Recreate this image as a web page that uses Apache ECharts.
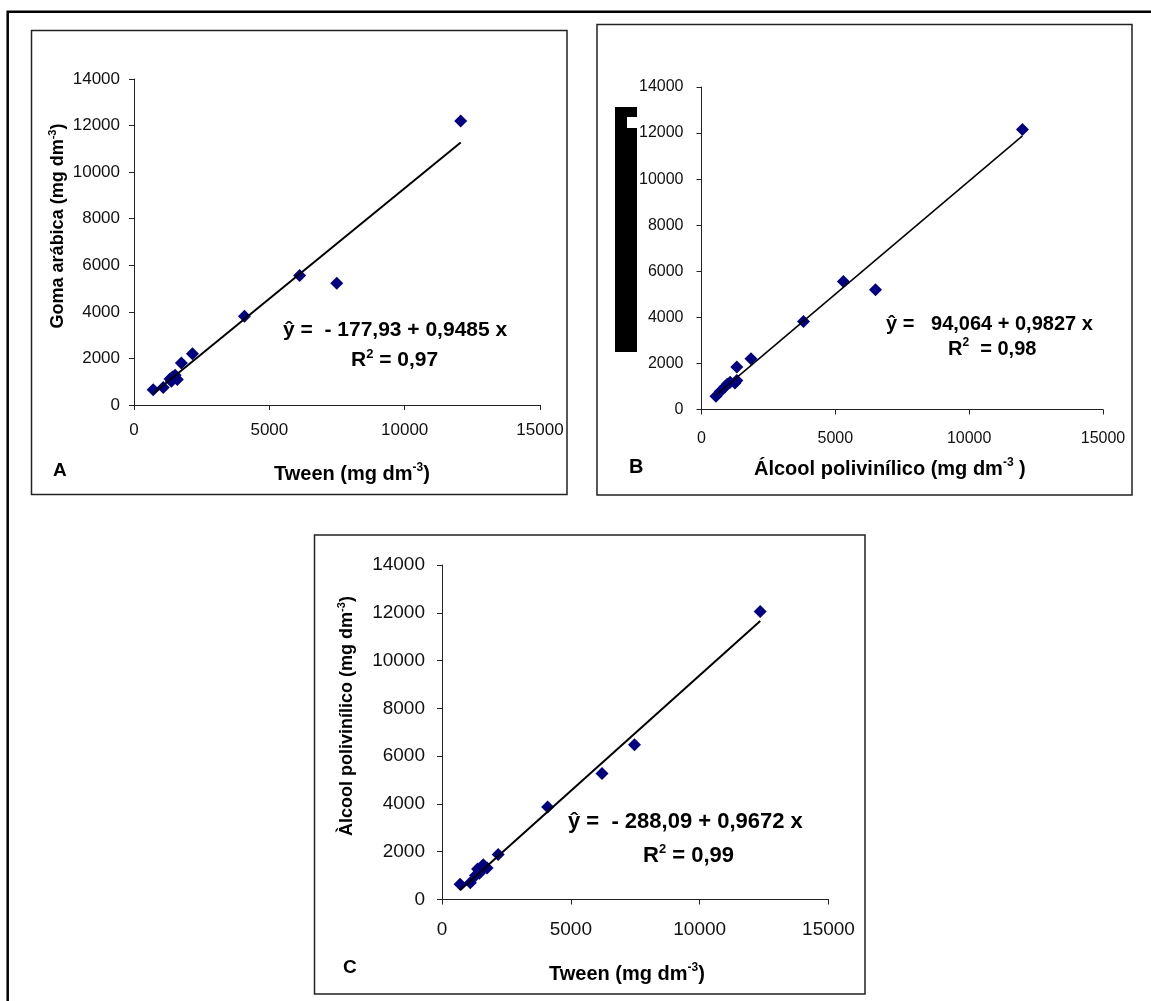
<!DOCTYPE html>
<html>
<head>
<meta charset="utf-8">
<script src="https://cdn.jsdelivr.net/npm/echarts@6/dist/echarts.min.js"></script>
<style>
html, body { margin: 0; padding: 0; background: #fff; }
#main { width: 1151px; height: 1001px; }
</style>
</head>
<body>
<div id="main"></div>
<script>
// panel A: Tween vs Goma arabica
var tweenA = [710, 1080, 1330, 1380, 1420, 1520, 1600, 1750, 2160, 4080, 6120, 7490, 12070];
var gomaA = [650, 750, 1120, 1020, 1200, 1280, 1090, 1800, 2200, 3810, 5560, 5230, 12200];
// panel B: Alcool polivinilico vs Goma arabica
var pvaB = [540, 700, 880, 960, 1070, 1250, 1320, 1320, 1850, 3810, 5300, 6500, 11990];
var gomaB = [580, 780, 990, 1100, 1180, 1150, 1260, 1840, 2200, 3820, 5560, 5200, 12150];
// panel C: Tween vs Alcool polivinilico
var tweenC = [700, 1100, 1300, 1380, 1450, 1500, 1600, 1750, 2180, 4100, 6210, 7470, 12350];
var pvaC = [640, 700, 1000, 1280, 1100, 1200, 1450, 1320, 1880, 3870, 5270, 6480, 12050];

// fitted lines (intercept, slope) as printed on the chart
var intercepts = [-177.93, 94.064, -288.09];
var slopes = [0.9485, 0.9827, 0.9672];

var xTicks = [0, 5000, 10000, 15000];
var yTicks = [0, 2000, 4000, 6000, 8000, 10000, 12000, 14000];

var FONT = "'Liberation Sans', Arial, sans-serif";

function pairs(xs, ys) {
    var out = [];
    for (var i = 0; i < xs.length; i++) out.push([xs[i], ys[i]]);
    return out;
}

function fitLine(xs, k) {
    var lo = Math.min.apply(null, xs), hi = Math.max.apply(null, xs);
    return [[lo, intercepts[k] + slopes[k] * lo], [hi, intercepts[k] + slopes[k] * hi]];
}

function xAxisFor(idx, fs, margin) {
    return {
        type: 'value', gridIndex: idx, min: xTicks[0], max: xTicks[xTicks.length - 1], interval: 5000,
        splitLine: { show: false },
        axisLine: { lineStyle: { color: '#222', width: 1 } },
        axisTick: { length: 5, lineStyle: { color: '#222' } },
        axisLabel: { color: '#111', fontSize: fs, fontFamily: FONT, margin: margin,
            formatter: function(v) { return String(v); } }
    };
}

function yAxisFor(idx, fs, margin) {
    return {
        type: 'value', gridIndex: idx, min: yTicks[0], max: yTicks[yTicks.length - 1], interval: 2000,
        splitLine: { show: false },
        axisLine: { show: true, lineStyle: { color: '#222', width: 1 } },
        axisTick: { show: true, length: 5, lineStyle: { color: '#222' } },
        axisLabel: { color: '#111', fontSize: fs, fontFamily: FONT, margin: margin,
            formatter: function(v) { return String(v); } }
    };
}

function scatterSeries(idx, data) {
    return {
        type: 'scatter', xAxisIndex: idx, yAxisIndex: idx, data: data,
        symbol: 'diamond', symbolSize: 13, z: 2,
        itemStyle: { color: '#000080', opacity: 1 }
    };
}

function lineSeries(idx, data, w) {
    return {
        type: 'line', xAxisIndex: idx, yAxisIndex: idx, data: data,
        showSymbol: false, symbol: 'none', z: 3,
        lineStyle: { color: '#000', width: w }
    };
}

function richText(x, y, text, fs, opts) {
    opts = opts || {};
    var ss = Math.round(fs * 0.6);
    return {
        type: 'text', x: x, y: y, rotation: opts.rotation || 0, z: 50,
        style: {
            text: text, align: opts.align || 'left', verticalAlign: 'middle',
            fill: '#000',
            rich: {
                b: { fontSize: fs, fontWeight: 'bold', fontFamily: FONT, lineHeight: fs + 2, verticalAlign: 'bottom' },
                s: { fontSize: ss, fontWeight: 'bold', fontFamily: FONT, lineHeight: ss + 1, verticalAlign: 'top' }
            }
        }
    };
}

function box(x1, y1, x2, y2, w, col) {
    return {
        type: 'rect', z: 40, silent: true,
        shape: { x: x1, y: y1, width: x2 - x1, height: y2 - y1 },
        style: { fill: 'none', stroke: col || '#222', lineWidth: w }
    };
}

var dom = document.getElementById('main');
var myChart = echarts.init(dom);
var option = {
    animation: false,
    backgroundColor: '#fff',
    textStyle: { fontFamily: FONT },
    grid: [
        { left: 134, top: 79, width: 406, height: 326 },
        { left: 701.5, top: 87, width: 401.5, height: 322.5 },
        { left: 442, top: 565, width: 386.5, height: 334.5 }
    ],
    xAxis: [xAxisFor(0, 17, 17), xAxisFor(1, 16, 21), xAxisFor(2, 19, 21)],
    yAxis: [yAxisFor(0, 17, 14), yAxisFor(1, 16, 18), yAxisFor(2, 19, 17)],
    series: [
        scatterSeries(0, pairs(tweenA, gomaA)),
        lineSeries(0, fitLine(tweenA, 0), 2),
        scatterSeries(1, pairs(pvaB, gomaB)),
        lineSeries(1, fitLine(pvaB, 1), 1.5),
        scatterSeries(2, pairs(tweenC, pvaC)),
        lineSeries(2, fitLine(tweenC, 2), 2)
    ],
    graphic: [
        // outer frame and panel frames
        box(7.7, 11.7, 1250, 1100, 2.5, '#000'),
        box(31.5, 30.5, 567, 494.5, 1.5),
        box(597, 24.5, 1132, 495, 1.5),
        box(314.5, 535, 865, 994, 1.5),
        // redaction block in panel B
        { type: 'rect', z: 60, shape: { x: 615, y: 107, width: 22, height: 245 }, style: { fill: '#000' } },
        { type: 'rect', z: 61, shape: { x: 627, y: 117, width: 10, height: 11 }, style: { fill: '#fff' } },

        // panel A texts
        richText(283, 329, '{b|ŷ =  - 177,93 + 0,9485 x}', 21),
        richText(351, 359, '{b|R}{s|2}{b| = 0,97}', 21),
        richText(274, 473, '{b|Tween (mg dm}{s|-3}{b|)}', 20),
        richText(57, 226, '{b|Goma arábica (mg dm}{s|-3}{b|)}', 18, { rotation: Math.PI / 2, align: 'center' }),
        richText(53, 470, '{b|A}', 19),

        // panel B texts
        richText(886, 323, '{b|ŷ =   94,064 + 0,9827 x}', 20),
        richText(948, 348, '{b|R}{s|2}{b|  = 0,98}', 20),
        richText(754, 468, '{b|Álcool polivinílico (mg dm}{s|-3}{b| )}', 20),
        richText(629, 466, '{b|B}', 20),

        // panel C texts
        richText(568, 821, '{b|ŷ =  - 288,09 + 0,9672 x}', 22),
        richText(643, 855, '{b|R}{s|2}{b| = 0,99}', 22),
        richText(549, 973, '{b|Tween (mg dm}{s|-3}{b|)}', 20),
        richText(346, 716, '{b|Àlcool polivinílico (mg dm}{s|-3}{b|)}', 18, { rotation: Math.PI / 2, align: 'center' }),
        richText(343, 967, '{b|C}', 19)
    ]
};
if (option && typeof option === "object") {
    myChart.setOption(option, true);
}
</script>
</body>
</html>
